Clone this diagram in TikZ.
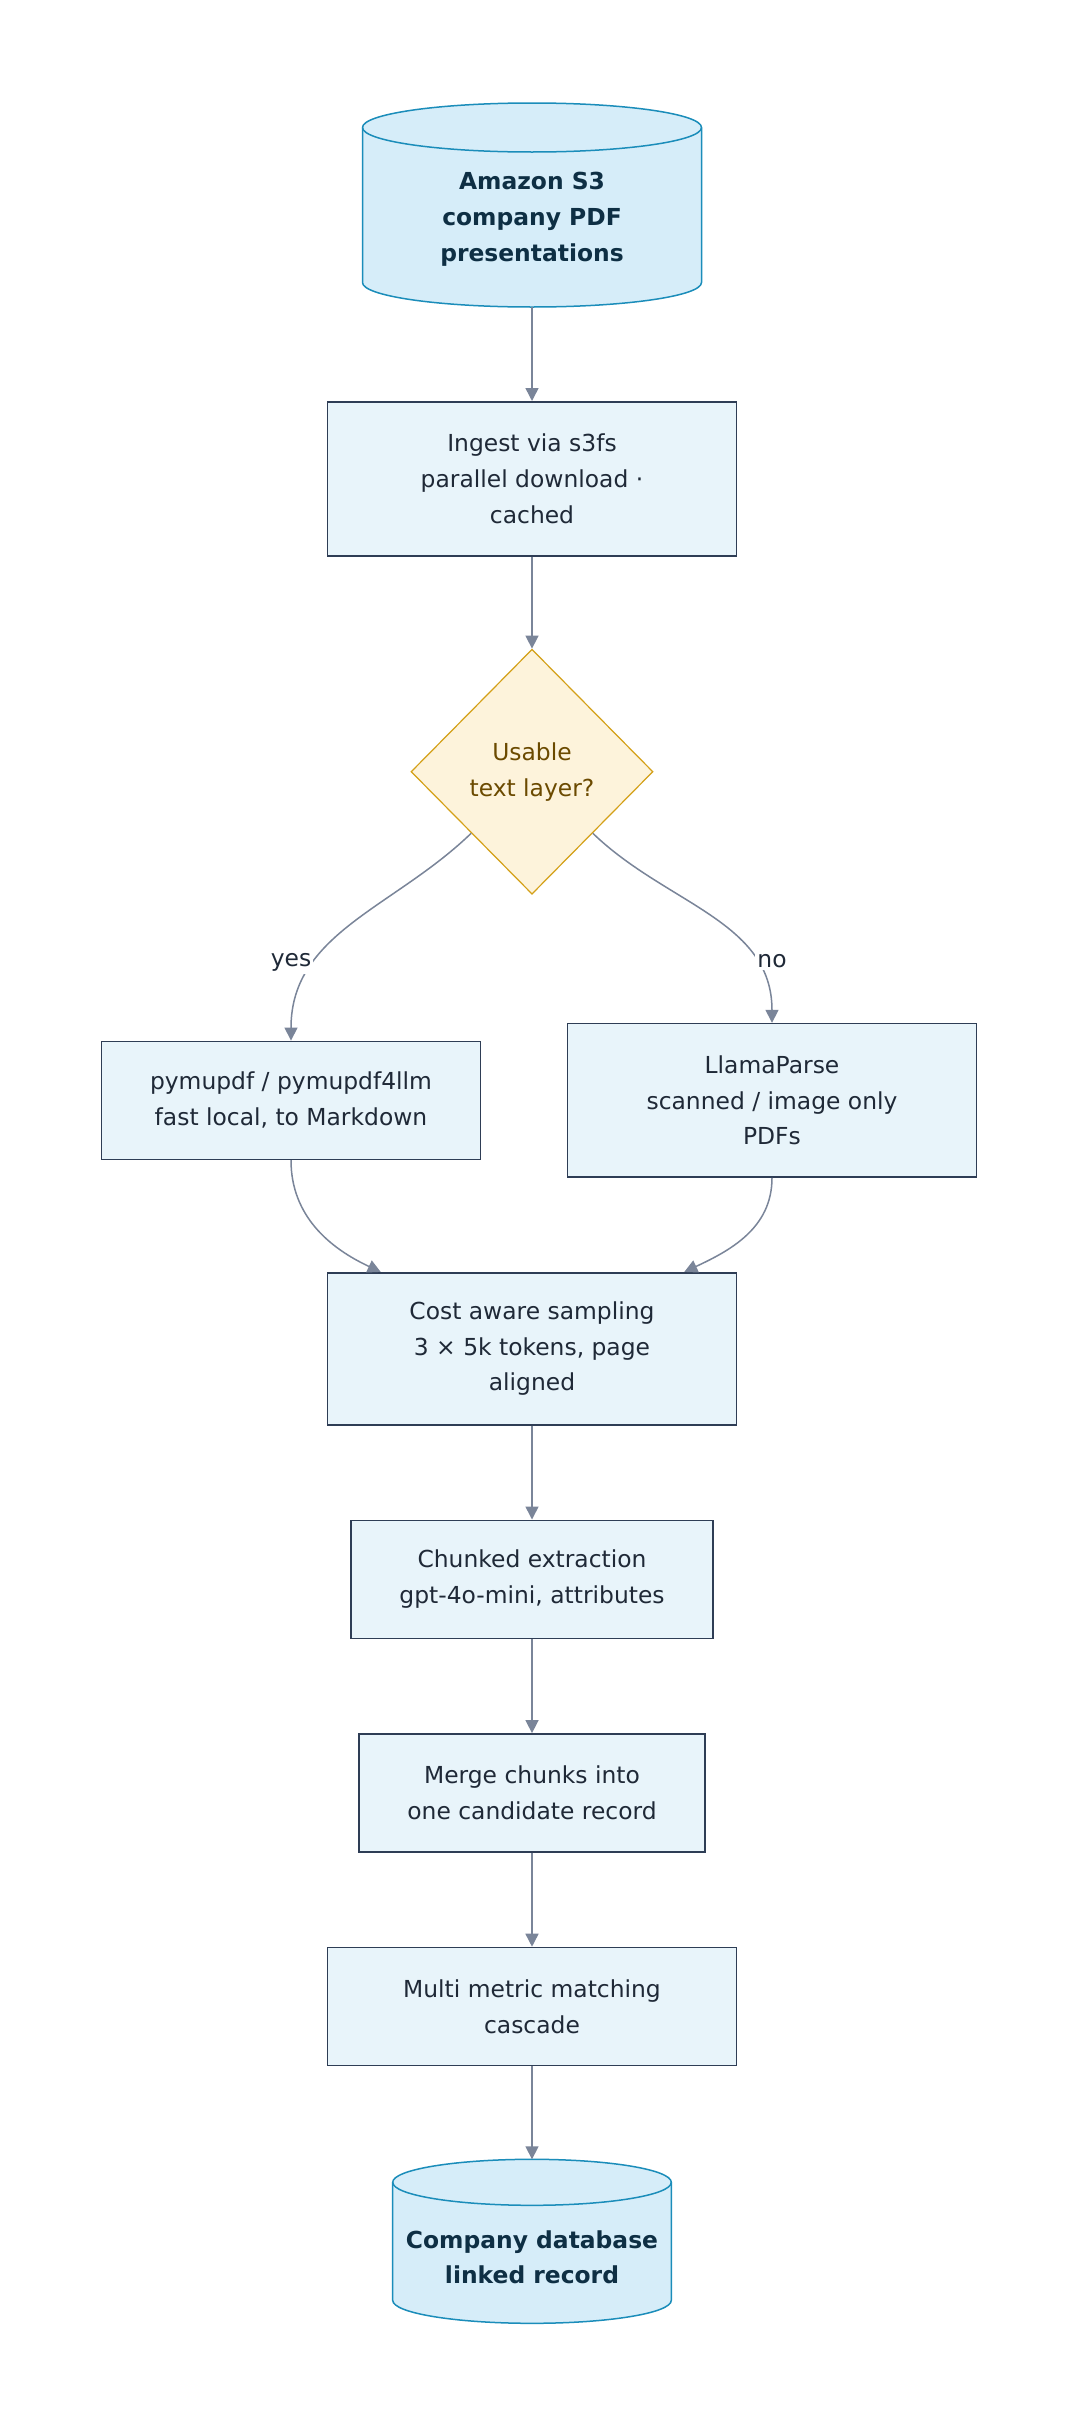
\documentclass[tikz,border=0pt]{standalone}
\usepackage{fontspec}
\setmainfont{DejaVu Sans}
\usetikzlibrary{arrows.meta, positioning, shapes.geometric}
\definecolor{boxFill}{HTML}{E8F4FA}
\definecolor{boxLine}{HTML}{2E3D55}
\definecolor{dbFill}{HTML}{D6EDF9}
\definecolor{dbLine}{HTML}{1B8DBA}
\definecolor{dbText}{HTML}{0E2F44}
\definecolor{decFill}{HTML}{FDF3DB}
\definecolor{decLine}{HTML}{D4A017}
\definecolor{decText}{HTML}{6B4A00}
\definecolor{flowGray}{HTML}{7A8599}
\definecolor{textDark}{HTML}{1F2937}

% cylinder outline round an empty node: node, half width, end radius
\newcommand\dbdraw[3]{%
  \path[draw=dbLine, fill=dbFill, line width=0.75pt]
    ([yshift=-#3]#1.north west) -- ([yshift=#3]#1.south west)
    arc[start angle=180, end angle=360, x radius=#2, y radius=#3]
    -- ([yshift=-#3]#1.north east)
    arc[start angle=0, end angle=180, x radius=#2, y radius=#3] -- cycle;
  \draw[dbLine, line width=0.75pt] ([yshift=-#3]#1.north west)
    arc[start angle=180, end angle=360, x radius=#2, y radius=#3];
}

\begin{document}
\begin{tikzpicture}[x=0.5pt, y=-0.5pt,
    txt/.style={font=\fontsize{11.7}{17.9}\selectfont, align=center},
    box/.style={txt, rectangle, draw=boxLine, line width=0.8pt, fill=boxFill,
      text=textDark, minimum width=204.5pt, minimum height=59pt, inner sep=0pt},
    db/.style={rectangle, inner sep=0pt, outer sep=0pt},
    dbtext/.style={align=center, font=\fontsize{11.7}{17.9}\selectfont\bfseries, text=dbText},
    decision/.style={txt, diamond, aspect=1, draw=decLine, line width=0.6pt,
      fill=decFill, text=decText, inner sep=0pt, minimum width=121pt, minimum height=122.5pt},
    flow/.style={draw=flowGray, line width=0.75pt, -{Triangle[width=6.5pt,length=6.5pt]}},
    lbl/.style={txt, text=textDark, fill=white, inner sep=1pt},
    node distance=47pt
  ]
  \path[fill=white, use as bounding box] (0,0) rectangle (1080,2436);

  % main column
  \node[db, minimum width=169.5pt, minimum height=102pt] (s3) at (532,205) {};
  \dbdraw{s3}{84.75pt}{12.25pt}
  \node[dbtext] at ([yshift=-7pt]s3.center) {Amazon S3\\company PDF\\presentations};
  \node[box, minimum height=77pt, below=of s3] (ingest) {Ingest via s3fs\\parallel download ·\\cached};
  \node[decision, below=46pt of ingest] (usable) {Usable\\text layer?};

  % the two parsers
  \node[box, minimum height=76.75pt, below=64pt of usable, xshift=120pt] (llama)
    {LlamaParse\\scanned / image only\\PDFs};
  \node[box, minimum width=189.5pt, xshift=-120.5pt] (pymu) at (usable |- llama)
    {pymupdf / pymupdf4llm\\fast local, to Markdown};

  \node[box, minimum height=76pt, anchor=north] (cost) at ([yshift=-47pt]usable |- llama.south)
    {Cost aware sampling\\3 × 5k tokens, page\\aligned};
  \node[box, minimum width=181pt, below=of cost] (chunk) {Chunked extraction\\gpt-4o-mini, attributes};
  \node[box, minimum width=173pt, below=of chunk] (merge) {Merge chunks into\\one candidate record};
  \node[box, below=of merge] (match) {Multi metric matching\\cascade};
  \node[db, minimum width=139.3pt, minimum height=82pt, below=46.5pt of match] (crm) {};
  \dbdraw{crm}{69.65pt}{11.5pt}
  \node[dbtext] at ([yshift=-8pt]crm.center) {Company database\\linked record};

  % connectors
  \draw[flow] (s3) -- (ingest);
  \draw[flow] (ingest) -- (usable);
  \draw[flow] (usable.south west) to[out=-136, in=90] (pymu.north);
  \draw[flow] (usable.south east) to[out=-44, in=90] (llama.north);
  \draw[flow] (pymu.south) to[out=-90, in=155] ([xshift=27pt]cost.north west);
  \draw[flow] (llama.south) to[out=-90, in=25] ([xshift=-26.5pt]cost.north east);
  \draw[flow] (cost) -- (chunk);
  \draw[flow] (chunk) -- (merge);
  \draw[flow] (merge) -- (match);
  \draw[flow] (match) -- (crm);

  \node[lbl] (yes) at ([yshift=39pt]pymu.north) {yes};
  \node[lbl] (no) at ([yshift=31pt]llama.north) {no};
\end{tikzpicture}
\end{document}
